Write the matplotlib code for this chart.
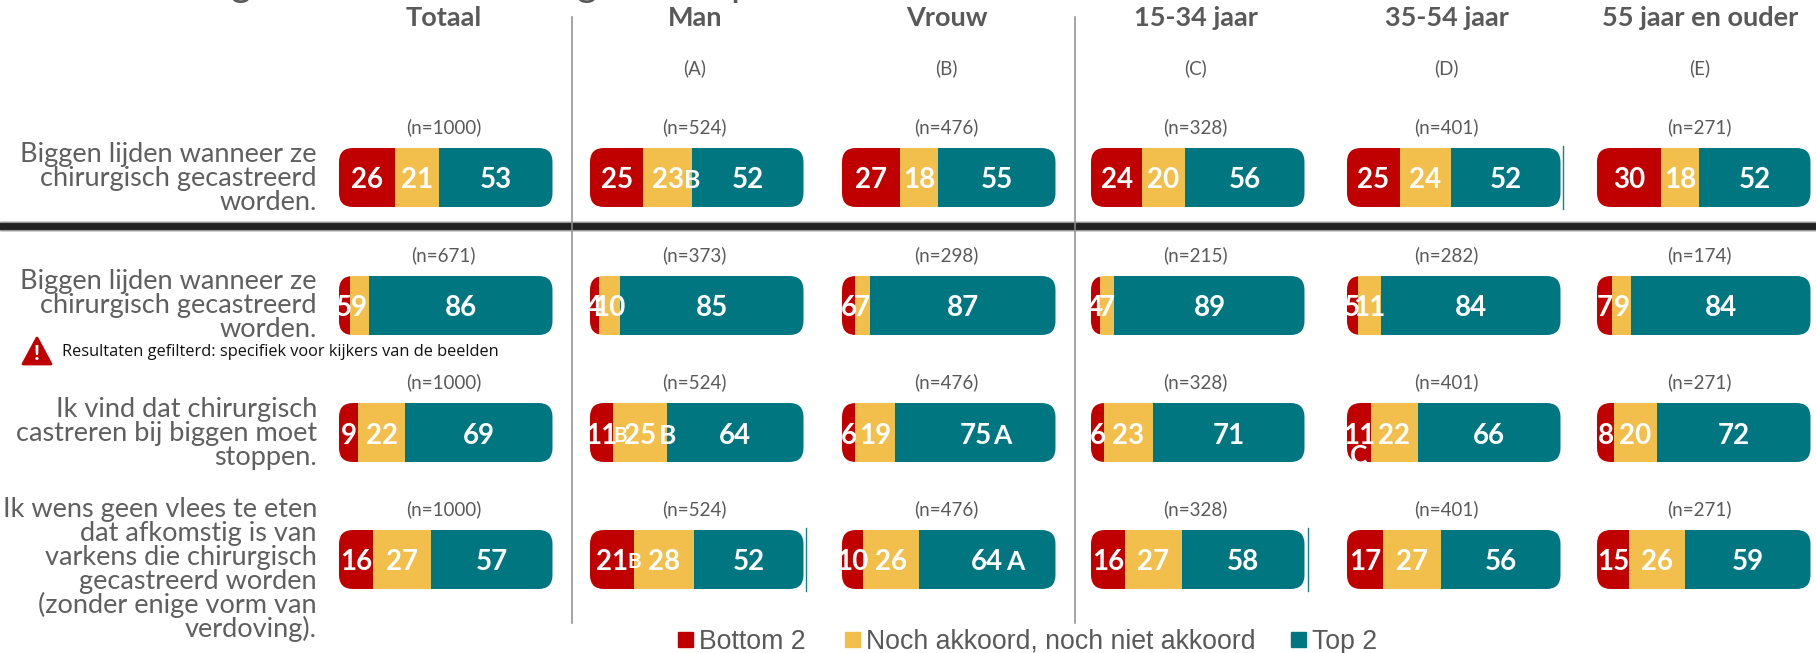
import matplotlib
matplotlib.use('Agg')
import matplotlib.pyplot as plt
from matplotlib.patches import FancyBboxPatch, Polygon, Rectangle

plt.rcParams['font.family'] = ['Lato', 'DejaVu Sans']

groups = ['Totaal', 'Man', 'Vrouw', '15-34 jaar', '35-54 jaar', '55 jaar en ouder']
group_letters = ['', '(A)', '(B)', '(C)', '(D)', '(E)']
statements = [
    'Biggen lijden wanneer ze\nchirurgisch gecastreerd\nworden.',
    'Biggen lijden wanneer ze\nchirurgisch gecastreerd\nworden.',
    'Ik vind dat chirurgisch\ncastreren bij biggen moet\nstoppen.',
    'Ik wens geen vlees te eten\ndat afkomstig is van\nvarkens die chirurgisch\ngecastreerd worden\n(zonder enige vorm van\nverdoving).',
]
series_names = ['Bottom 2', 'Noch akkoord, noch niet akkoord', 'Top 2']
colors = ['#C00000', '#F2BE4C', '#007681']

bottom2 = [
    [26, 25, 27, 24, 25, 30],
    [5, 4, 6, 4, 5, 7],
    [9, 11, 6, 6, 11, 8],
    [16, 21, 10, 16, 17, 15],
]
neutral = [
    [21, 23, 18, 20, 24, 18],
    [9, 10, 7, 7, 11, 9],
    [22, 25, 19, 23, 22, 20],
    [27, 28, 26, 27, 27, 26],
]
top2 = [
    [53, 52, 55, 56, 52, 52],
    [86, 85, 87, 89, 84, 84],
    [69, 64, 75, 71, 66, 72],
    [57, 52, 64, 58, 56, 59],
]
base_n = [
    [1000, 524, 476, 328, 401, 271],
    [671, 373, 298, 215, 282, 174],
    [1000, 524, 476, 328, 401, 271],
    [1000, 524, 476, 328, 401, 271],
]
# significance letters: (row, column, series, letter, x offset px, y offset px, size)
sig_letters = [
    (0, 1, 1, 'B', 24, 0, 18),
    (2, 1, 0, 'B', 18, 0, 15),
    (2, 1, 1, 'B', 27, 0, 19),
    (2, 2, 2, 'A', 27, 0, 19),
    (2, 4, 0, 'C', 0, 20, 19),
    (3, 1, 0, 'B', 22, 0, 15),
    (3, 2, 2, 'A', 28, 0, 19),
]

W, H = 1816, 653
bar_left = [339, 590, 842, 1091, 1347, 1597]
bar_width = 213.5
bar_top = [148, 276, 403, 530]
bar_height = 59
label_baseline = [162, 288.5, 417, 517]
head_shift = [-2, -2, -2, -2, -7, -4]
grey = '#595959'

fig = plt.figure(figsize=(W / 100, H / 100), dpi=100)
bg = fig.add_axes([0, 0, 1, 1])
bg.set_xlim(0, W)
bg.set_ylim(H, 0)
bg.axis('off')

# what is left of the cut off slide title at the top edge
for x, ch in [(241, 'g'), (587, 'g'), (741, 'p')]:
    bg.text(x, -4, ch, ha='center', va='baseline', fontsize=28, color=grey)

bg.add_patch(Rectangle((0, 222), W, 8, color='#222222', zorder=1))
bg.plot([0, W], [222, 222], color='#999999', lw=0.8, zorder=1)
bg.plot([0, W], [230, 230], color='#999999', lw=0.8, zorder=1)
for x in [572, 1074.5]:
    bg.plot([x, x], [17, 623], color='#8c8c8c', lw=1.1, zorder=2)

for c, name in enumerate(groups):
    cx = bar_left[c] + bar_width / 2 + head_shift[c]
    bg.text(cx, 26, name, ha='center', va='baseline', fontsize=19.5, fontweight='bold', color=grey)
    if group_letters[c]:
        bg.text(cx, 68, group_letters[c], ha='center', va='center', fontsize=13.5, color=grey)

for r, label in enumerate(statements):
    for i, line in enumerate(label.split('\n')):
        bg.text(317, label_baseline[r] + i * 24.1, line, ha='right', va='baseline', fontsize=19.5,
                color='#5f5f5f')

# stacked bars, one axes per column, x runs 0-100
for c in range(6):
    ax = fig.add_axes([bar_left[c] / W, 0, bar_width / W, 1])
    ax.set_xlim(0, 100)
    ax.set_ylim(H, 0)
    ax.axis('off')
    ax.patch.set_alpha(0)
    px = bar_width / 100
    for r in range(4):
        vals = [bottom2[r][c], neutral[r][c], top2[r][c]]
        total = sum(vals)
        y = bar_top[r] + bar_height / 2
        clip = FancyBboxPatch((0, bar_top[r]), 100, bar_height,
                              boxstyle='round,pad=0,rounding_size=%f' % (14 / px),
                              mutation_aspect=px, fc='none', ec='none',
                              transform=ax.transData)
        ax.add_patch(clip)
        left = 0
        centers = []
        for s, v in enumerate(vals):
            w = v / total * 100
            bars = ax.barh(y, w, left=left, height=bar_height, color=colors[s])
            bars[0].set_clip_path(clip)
            centers.append(left + w / 2)
            left += w
        for s, v in enumerate(vals):
            ax.text(centers[s], y + 3, str(v), ha='center', va='center', color='white',
                    fontsize=20, fontweight='bold', zorder=5, clip_on=False)
        bg.text(bar_left[c] + bar_width / 2 + head_shift[c], bar_top[r] - 21, '(n=%d)' % base_n[r][c],
                ha='center', va='center', fontsize=13.5, color=grey)
        for row, col, s, letter, dx, dy, size in sig_letters:
            if row == r and col == c:
                ax.text(centers[s] + dx / px, y + 3 + dy, letter, ha='center', va='center',
                        color='white', fontsize=size, fontweight='bold', zorder=6, clip_on=False)

# thin stray lines beside a few bars in the source slide
for x, r in [(806, 3), (1562.5, 0), (1307.5, 3)]:
    bg.plot([x, x], [bar_top[r] - 2, bar_top[r] + bar_height + 2], color='#1a7f8f', lw=1)

# warning icon and filter note
bg.add_patch(Polygon([(37, 338), (51, 364), (23, 364)], closed=True, fc='#C00000', ec='#C00000',
                     lw=2, joinstyle='round'))
bg.text(37, 353, '!', ha='center', va='center', color='white', fontsize=15, fontweight='black')
bg.text(62, 352, 'Resultaten gefilterd: specifiek voor kijkers van de beelden', ha='left', va='center',
        fontsize=11.75, color='#111111', family='Open Sans')

# legend
leg_x = [678, 845, 1291]
for x, name, col in zip(leg_x, series_names, colors):
    bg.add_patch(Rectangle((x, 632), 15, 15, color=col))
    bg.text(x + 21, 642, name, ha='left', va='center', fontsize=19.2, color=grey,
            family='Liberation Sans')

fig.savefig('out.png', dpi=100)
